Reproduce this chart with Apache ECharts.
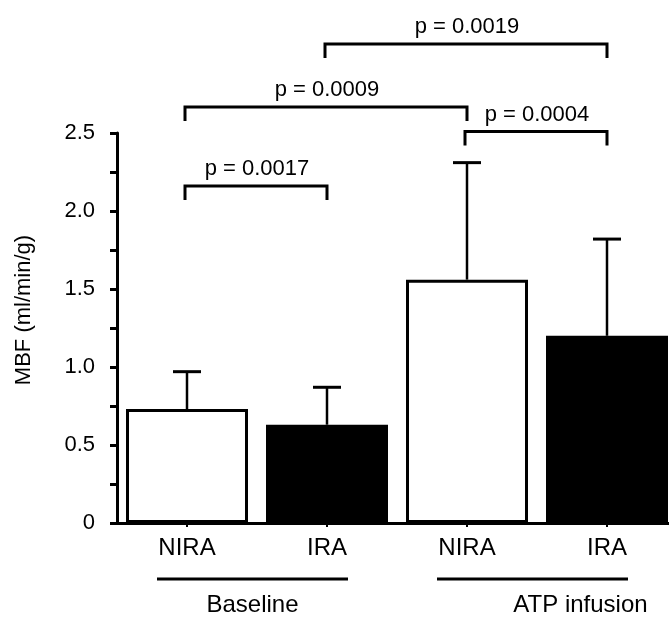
<!DOCTYPE html>
<html>
<head>
<meta charset="utf-8">
<script src="https://cdn.jsdelivr.net/npm/echarts@6/dist/echarts.min.js"></script>
<style>
html,body{margin:0;padding:0;background:#fff;}
#chart{width:669px;height:618px;}
</style>
</head>
<body>
<div id="chart"></div>
<script>
// ---- data ----
const categories = ['NIRA', 'IRA', 'NIRA', 'IRA'];
const categoryIndex = [0, 1, 2, 3];
const groups = ['Baseline', 'ATP infusion'];
const groupMembers = [[0, 1], [2, 3]];
const meanMBF = [0.73, 0.63, 1.56, 1.20];
const upperSD = [0.97, 0.87, 2.31, 1.82];
const barColors = ['#ffffff', '#000000', '#ffffff', '#000000'];
const yTicks = [0, 0.5, 1.0, 1.5, 2.0, 2.5];
// significance brackets: [from category, to category], bracket level in MBF units
const bracketPairs = [[0, 1], [0, 2], [2, 3], [1, 3]];
const bracketLevels = [2.16, 2.667, 2.51, 3.07];
const pLabels = ['p = 0.0017', 'p = 0.0009', 'p = 0.0004', 'p = 0.0019'];

const FONT = '"Liberation Sans", Arial, Helvetica, sans-serif';
const chart = echarts.init(document.getElementById('chart'), null, {renderer: 'canvas'});

// x axis: one unit per category, 140 px per unit, last bar runs to the right edge
const X_MIN = -0.5;
const X_MAX = -0.5 + 552 / 140;

const option = {
  animation: false,
  backgroundColor: '#ffffff',
  grid: {left: 117, right: 0, top: 133, bottom: 95, containLabel: false},
  xAxis: {
    type: 'value',
    min: X_MIN,
    max: X_MAX,
    axisLine: {show: true, onZero: false, lineStyle: {color: '#000', width: 3}},
    axisTick: {show: true, customValues: categoryIndex, length: 4, lineStyle: {color: '#000', width: 2}},
    axisLabel: {
      show: true, customValues: categoryIndex,
      color: '#000', fontSize: 24, fontFamily: FONT, margin: 13,
      formatter: v => categories[Math.round(v)]
    },
    splitLine: {show: false}
  },
  yAxis: {
    type: 'value',
    min: yTicks[0],
    max: yTicks[yTicks.length - 1],
    interval: 0.5,
    name: 'MBF (ml/min/g)',
    nameLocation: 'middle',
    nameRotate: 90,
    nameGap: 82,
    nameTextStyle: {color: '#000', fontSize: 22, fontFamily: FONT, padding: [0, 0, 0, 36]},
    axisLine: {show: true, onZero: false, lineStyle: {color: '#000', width: 3}},
    axisTick: {show: true, length: 7, lineStyle: {color: '#000', width: 3}},
    minorTick: {show: true, splitNumber: 2, length: 7, lineStyle: {color: '#000', width: 3}},
    axisLabel: {
      color: '#000', fontSize: 22, fontFamily: FONT, margin: 22,
      formatter: v => (v === 0 ? '0' : v.toFixed(1))
    },
    splitLine: {show: false},
    minorSplitLine: {show: false}
  },
  series: [
    {
      type: 'bar',
      barWidth: 122,
      data: meanMBF.map((v, i) => ({
        value: [categoryIndex[i], v],
        itemStyle: {color: barColors[i], borderColor: '#000', borderWidth: 3}
      })),
      z: 2
    },
    {
      type: 'custom',
      z: 3,
      clip: false,
      data: meanMBF.map((m, i) => [categoryIndex[i], m, upperSD[i]]),
      encode: {x: 0, y: [1, 2]},
      renderItem: (params, api) => {
        const base = api.coord([api.value(0), api.value(1)]);
        const top = api.coord([api.value(0), api.value(2)]);
        const x = base[0];
        return {
          type: 'group',
          children: [
            {type: 'line', shape: {x1: x, y1: base[1], x2: x, y2: top[1]},
             style: {stroke: '#000', lineWidth: 2.5}},
            {type: 'line', shape: {x1: x - 14, y1: top[1], x2: x + 14, y2: top[1]},
             style: {stroke: '#000', lineWidth: 3}}
          ]
        };
      }
    },
    {
      type: 'custom',
      z: 4,
      clip: false,
      data: bracketPairs.map((p, i) => [p[0], p[1], bracketLevels[i]]),
      encode: {x: [0, 1], y: 2},
      renderItem: (params, api) => {
        const a = api.coord([api.value(0), api.value(2)]);
        const b = api.coord([api.value(1), api.value(2)]);
        const y = a[1];
        const leg = 14;
        return {
          type: 'group',
          children: [
            {type: 'polyline',
             shape: {points: [[a[0] - 2, y + leg], [a[0] - 2, y], [b[0], y], [b[0], y + leg]]},
             style: {stroke: '#000', lineWidth: 3, fill: null}},
            {type: 'text',
             style: {text: pLabels[params.dataIndex], x: (a[0] + b[0]) / 2, y: y - 6,
                     align: 'center', verticalAlign: 'bottom',
                     font: '22px ' + FONT, fill: '#000'}}
          ]
        };
      }
    }
  ]
};
chart.setOption(option);

// group labels under the category axis, positioned from the axis scale
const gEls = [];
const groupShift = [0, 48];
groupMembers.forEach((m, gi) => {
  const p0 = chart.convertToPixel({gridIndex: 0}, [m[0], 0]);
  const p1 = chart.convertToPixel({gridIndex: 0}, [m[1], 0]);
  const x0 = p0[0] - 30, x1 = p1[0] + 21;
  const yBase = p0[1];
  gEls.push({
    type: 'line',
    shape: {x1: x0, y1: yBase + 56, x2: x1, y2: yBase + 56},
    style: {stroke: '#000', lineWidth: 3}
  });
  gEls.push({
    type: 'text',
    style: {text: groups[gi], x: (x0 + x1) / 2 + groupShift[gi], y: yBase + 82,
            align: 'center', verticalAlign: 'middle',
            font: '24px ' + FONT, fill: '#000'}
  });
});
chart.setOption({graphic: {elements: gEls}});
</script>
</body>
</html>
